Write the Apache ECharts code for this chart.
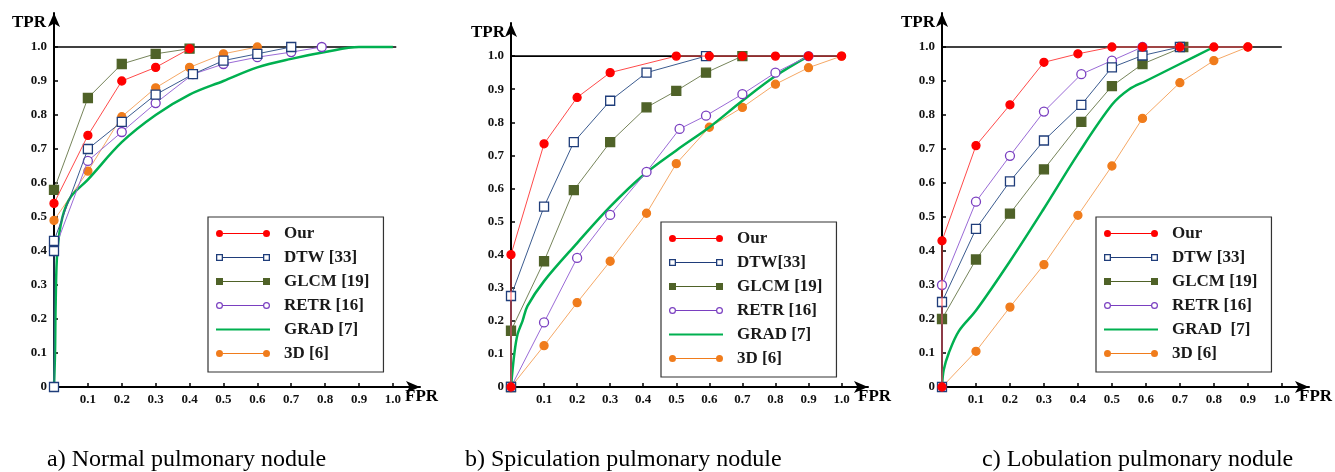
<!DOCTYPE html>
<html>
<head>
<meta charset="utf-8">
<script src="https://cdn.jsdelivr.net/npm/echarts@6/dist/echarts.min.js"></script>
<style>
  html, body { margin: 0; padding: 0; background: #fff; }
  #main { width: 1335px; height: 472px; }
</style>
</head>
<body>
<div id="main"></div>
<script>
// a) Normal pulmonary nodule  -- [FPR, TPR]
const ourA  = [[0,0.54],[0.1,0.74],[0.2,0.90],[0.3,0.94],[0.4,0.995]];
const dtwA  = [[0,0],[0,0.40],[0,0.43],[0.1,0.70],[0.2,0.78],[0.3,0.86],[0.41,0.92],[0.5,0.96],[0.6,0.98],[0.7,1.0]];
const glcmA = [[0,0.58],[0.1,0.85],[0.2,0.95],[0.3,0.98],[0.4,0.995]];
const retrA = [[0,0.40],[0.1,0.665],[0.2,0.75],[0.3,0.835],[0.41,0.92],[0.5,0.95],[0.6,0.97],[0.7,0.985],[0.79,1.0]];
const gradA = [[0,0],[0.003,0.1],[0.005,0.25],[0.01,0.4],[0.025,0.5],[0.05,0.56],[0.1,0.61],[0.2,0.72],[0.3,0.80],[0.4,0.86],[0.5,0.90],[0.6,0.94],[0.7,0.965],[0.8,0.985],[0.9,1.0],[1.0,1.0]];
const d3A   = [[0,0.49],[0.1,0.635],[0.2,0.795],[0.3,0.88],[0.4,0.94],[0.5,0.98],[0.6,1.0]];

// b) Spiculation pulmonary nodule
const ourB  = [[0,0],[0,0.40],[0.1,0.735],[0.2,0.875],[0.3,0.95],[0.5,1.0],[0.6,1.0],[0.7,1.0],[0.8,1.0],[0.9,1.0],[1.0,1.0]];
const dtwB  = [[0,0],[0,0.275],[0.1,0.545],[0.19,0.74],[0.3,0.865],[0.41,0.95],[0.59,1.0]];
const glcmB = [[0,0],[0,0.17],[0.1,0.38],[0.19,0.595],[0.3,0.74],[0.41,0.845],[0.5,0.895],[0.59,0.95],[0.7,1.0]];
const retrB = [[0,0],[0.1,0.195],[0.2,0.39],[0.3,0.52],[0.41,0.65],[0.51,0.78],[0.59,0.82],[0.7,0.885],[0.8,0.95],[0.9,1.0]];
const gradB = [[0,0],[0.01,0.1],[0.02,0.16],[0.035,0.2],[0.05,0.245],[0.1,0.32],[0.2,0.435],[0.3,0.545],[0.4,0.64],[0.5,0.715],[0.6,0.785],[0.7,0.865],[0.8,0.94],[0.9,1.0]];
const d3B   = [[0,0],[0.1,0.125],[0.2,0.255],[0.3,0.38],[0.41,0.525],[0.5,0.675],[0.6,0.785],[0.7,0.845],[0.8,0.915],[0.9,0.965],[1.0,1.0]];

// c) Lobulation pulmonary nodule
const ourC  = [[0,0],[0,0.43],[0.1,0.71],[0.2,0.83],[0.3,0.955],[0.4,0.98],[0.5,1.0],[0.59,1.0],[0.7,1.0],[0.8,1.0],[0.9,1.0]];
const dtwC  = [[0,0],[0,0.25],[0.1,0.465],[0.2,0.605],[0.3,0.725],[0.41,0.83],[0.5,0.94],[0.59,0.975],[0.7,1.0]];
const glcmC = [[0,0.2],[0.1,0.375],[0.2,0.51],[0.3,0.64],[0.41,0.78],[0.5,0.885],[0.59,0.95],[0.71,1.0]];
const retrC = [[0,0.3],[0.1,0.545],[0.2,0.68],[0.3,0.81],[0.41,0.92],[0.5,0.96],[0.59,1.0]];
const gradC = [[0,0],[0.005,0.05],[0.02,0.1],[0.05,0.165],[0.1,0.225],[0.2,0.37],[0.3,0.525],[0.4,0.685],[0.5,0.83],[0.55,0.875],[0.6,0.9],[0.7,0.95],[0.8,1.0]];
const d3C   = [[0,0],[0.1,0.105],[0.2,0.235],[0.3,0.36],[0.4,0.505],[0.5,0.65],[0.59,0.79],[0.7,0.895],[0.8,0.96],[0.9,1.0]];

// perfect-classifier line at TPR = 1
const topA = [[0,1],[1.01,1]];
const topB = [[0,1],[1.0,1]];
const topC = [[0,1],[1.0,1]];

const xTicks = [0.1,0.2,0.3,0.4,0.5,0.6,0.7,0.8,0.9,1.0];
const yTicks = [0,0.1,0.2,0.3,0.4,0.5,0.6,0.7,0.8,0.9,1.0];

const namesA = ['Our','DTW [33]','GLCM [19]','RETR [16]','GRAD [7]','3D [6]'];
const namesB = ['Our','DTW[33]','GLCM [19]','RETR [16]','GRAD [7]','3D [6]'];
const namesC = ['Our','DTW [33]','GLCM [19]','RETR [16]','GRAD  [7]','3D [6]'];
const captions = ['a) Normal pulmonary nodule','b) Spiculation pulmonary nodule','c) Lobulation pulmonary nodule'];

const SERIF = '"Liberation Serif", "Times New Roman", serif';

// look of each method
const looks = [
  { symbol: 'circle', fill: '#ff0000', border: '#ff0000', line: '#ff4a4a', size: 8,
    icon: 'path://M0,3.5A3.5,3.5,0,1,1,7,3.5A3.5,3.5,0,1,1,0,3.5ZM7,3L47,3L47,4L7,4ZM47,3.5A3.5,3.5,0,1,1,54,3.5A3.5,3.5,0,1,1,47,3.5Z' },
  { symbol: 'rect', fill: '#ffffff', border: '#1f3d7a', line: '#3b5b8f', size: 9,
    icon: 'path://M0,0L7,0L7,7L0,7ZM1.3,1.3L1.3,5.7L5.7,5.7L5.7,1.3ZM7,3L47,3L47,4L7,4ZM47,0L54,0L54,7L47,7ZM48.3,1.3L48.3,5.7L52.7,5.7L52.7,1.3Z', iconColor: '#1f3d7a' },
  { symbol: 'rect', fill: '#4f6228', border: '#4f6228', line: '#76845a', size: 9,
    icon: 'path://M0,0L7,0L7,7L0,7ZM7,3L47,3L47,4L7,4ZM47,0L54,0L54,7L47,7Z' },
  { symbol: 'circle', fill: '#ffffff', border: '#7a3fc0', line: '#9a6ad6', size: 9,
    icon: 'path://M0,3.5A3.5,3.5,0,1,1,7,3.5A3.5,3.5,0,1,1,0,3.5ZM1.2,3.5A2.3,2.3,0,1,0,5.8,3.5A2.3,2.3,0,1,0,1.2,3.5ZM7,3L47,3L47,4L7,4ZM47,3.5A3.5,3.5,0,1,1,54,3.5A3.5,3.5,0,1,1,47,3.5ZM48.2,3.5A2.3,2.3,0,1,0,52.8,3.5A2.3,2.3,0,1,0,48.2,3.5Z', iconColor: '#7a3fc0' },
  { symbol: 'none', line: '#00b050', width: 2.5, smooth: 0.35,
    icon: 'path://M0,0L54,0L54,2.2L0,2.2Z', iconColor: '#00b050' },
  { symbol: 'circle', fill: '#f07c1c', border: '#f07c1c', line: '#f5a866', size: 8,
    icon: 'path://M0,3.5A3.5,3.5,0,1,1,7,3.5A3.5,3.5,0,1,1,0,3.5ZM7,3L47,3L47,4L7,4ZM47,3.5A3.5,3.5,0,1,1,54,3.5A3.5,3.5,0,1,1,47,3.5Z' }
];

const panels = [
  { names: namesA, data: [ourA, dtwA, glcmA, retrA, gradA, d3A], top: topA,
    grid: { left: 54, top: 13, width: 366, height: 374 }, legend: [208, 217],
    tpr: [46, 23], fpr: [405, 397], caption: [47, 460] },
  { names: namesB, data: [ourB, dtwB, glcmB, retrB, gradB, d3B], top: topB,
    grid: { left: 511, top: 23, width: 357, height: 364 }, legend: [661, 222],
    tpr: [505, 33], fpr: [858, 397], caption: [465, 460] },
  { names: namesC, data: [ourC, dtwC, glcmC, retrC, gradC, d3C], top: topC,
    grid: { left: 942, top: 13, width: 367, height: 374 }, legend: [1096, 217],
    tpr: [935, 23], fpr: [1299, 397], caption: [982, 460] }
];

const grids = [], xAxes = [], yAxes = [], legends = [], series = [], graphics = [];

const labelStyle = { fontFamily: SERIF, fontWeight: 'bold', fontSize: 13, color: '#111' };
const axisLine = { show: true, lineStyle: { color: '#000', width: 2 }, symbol: ['none', 'arrow'], symbolSize: [9, 14] };

panels.forEach((p, i) => {
  grids.push(p.grid);
  xAxes.push({
    type: 'value', gridIndex: i, min: 0, max: 1.08,
    axisLine: axisLine,
    axisTick: { show: true, inside: true, length: 4, customValues: xTicks, lineStyle: { color: '#000', width: 1.5 } },
    axisLabel: Object.assign({ customValues: xTicks, margin: 6, formatter: v => v.toFixed(1) }, labelStyle),
    splitLine: { show: false }
  });
  yAxes.push({
    type: 'value', gridIndex: i, min: 0, max: 1.1,
    axisLine: axisLine,
    axisTick: { show: true, inside: true, length: 4, customValues: yTicks, lineStyle: { color: '#000', width: 1.5 } },
    axisLabel: Object.assign({ customValues: yTicks, margin: 7, formatter: v => v === 0 ? '0' : v.toFixed(1) }, labelStyle),
    splitLine: { show: false }
  });

  series.push({
    type: 'line', xAxisIndex: i, yAxisIndex: i, data: p.top, z: 1,
    symbol: 'none', silent: true, lineStyle: { color: '#000', width: 1.6 }
  });

  // draw order: GRAD, 3D, RETR, GLCM, DTW, Our (Our on top)
  [4, 5, 3, 2, 1, 0].forEach(k => {
    const lk = looks[k];
    series.push({
      name: p.names[k], type: 'line', xAxisIndex: i, yAxisIndex: i,
      data: p.data[k], z: 2 + (5 - k),
      symbol: lk.symbol, symbolSize: lk.size || 0, showSymbol: lk.symbol !== 'none',
      smooth: lk.smooth || false,
      lineStyle: { color: lk.line, width: lk.width || 1 },
      itemStyle: lk.symbol === 'none' ? { color: lk.line } : { color: lk.fill, borderColor: lk.border, borderWidth: 1.3 },
      emphasis: { disabled: true }
    });
  });

  legends.push({
    left: p.legend[0], top: p.legend[1], orient: 'vertical',
    padding: [8, 14, 10, 8], itemGap: 7, itemWidth: 54, itemHeight: 7,
    borderColor: '#333', borderWidth: 1.2, backgroundColor: '#fff',
    selectedMode: false,
    formatter: '{t|{name}}',
    textStyle: { rich: { t: { fontFamily: SERIF, fontWeight: 'bold', fontSize: 17, color: '#1a1a1a', padding: [0, 0, 0, 9] } } },
    data: p.names.map((n, k) => ({
      name: n, icon: looks[k].icon,
      itemStyle: { color: looks[k].iconColor || looks[k].fill, borderWidth: 0 }
    }))
  });

  graphics.push(
    { type: 'text', x: p.tpr[0], y: p.tpr[1], style: { text: 'TPR', font: 'bold 17px ' + SERIF, fill: '#000', align: 'right', verticalAlign: 'middle' } },
    { type: 'text', x: p.fpr[0], y: p.fpr[1], style: { text: 'FPR', font: 'bold 17px ' + SERIF, fill: '#000', align: 'left', verticalAlign: 'middle' } },
    { type: 'text', x: p.caption[0], y: p.caption[1], style: { text: captions[i], font: '24px ' + SERIF, fill: '#000', align: 'left', verticalAlign: 'middle' } }
  );
});

const chart = echarts.init(document.getElementById('main'));
chart.setOption({
  animation: false,
  backgroundColor: '#fff',
  grid: grids,
  xAxis: xAxes,
  yAxis: yAxes,
  legend: legends,
  series: series,
  graphic: graphics
});
</script>
</body>
</html>
